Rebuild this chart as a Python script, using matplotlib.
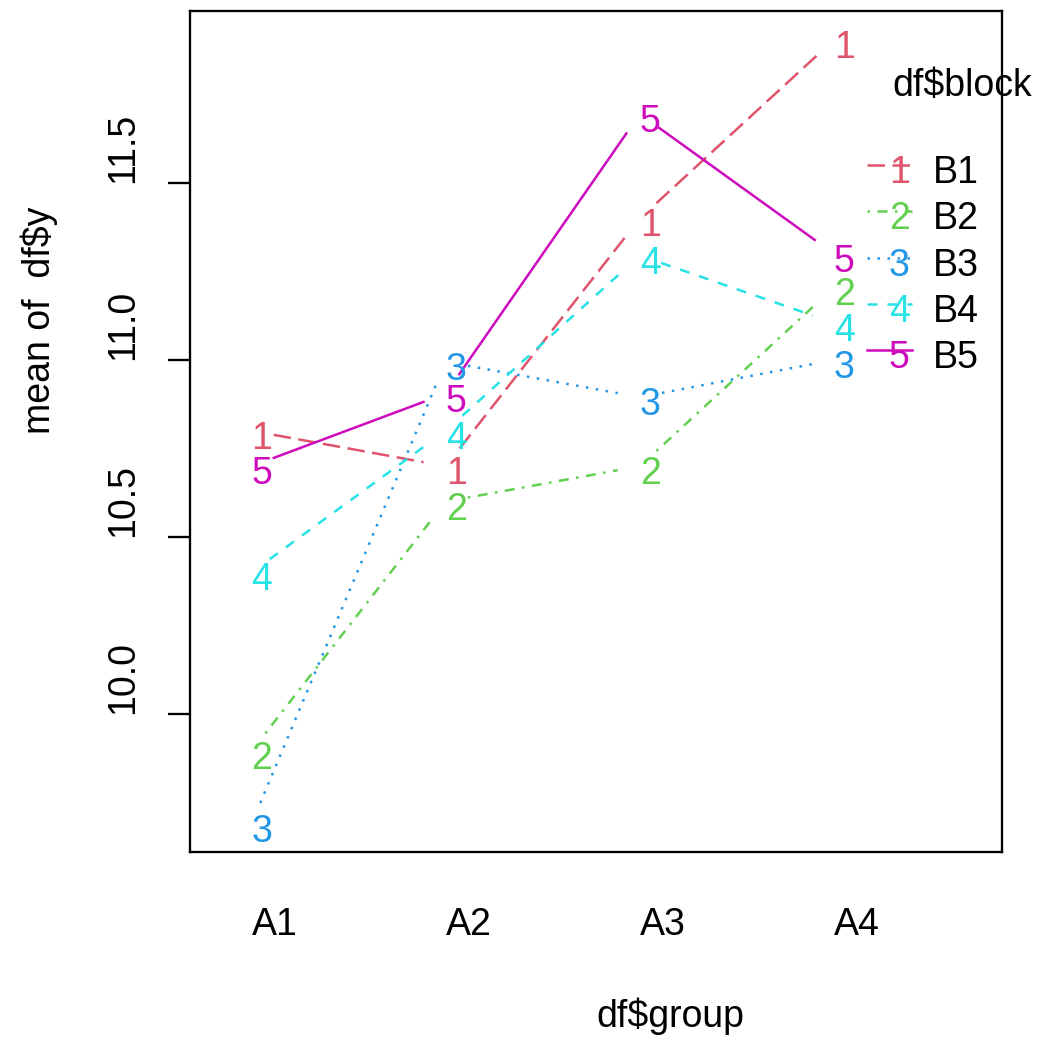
import matplotlib
matplotlib.use('Agg')
import matplotlib.pyplot as plt
import numpy as np
from matplotlib import transforms

# ---- data (means of df$y by group and block) ----
groups = ['A1', 'A2', 'A3', 'A4']
blocks = ['B1', 'B2', 'B3', 'B4', 'B5']
block_marks = ['1', '2', '3', '4', '5']
b1 = [10.80, 10.70, 11.40, 11.905]
b2 = [9.895, 10.60, 10.70, 11.205]
b3 = [9.69, 10.995, 10.895, 11.00]
b4 = [10.40, 10.80, 11.295, 11.105]
b5 = [10.70, 10.905, 11.695, 11.30]
yticks = [10.0, 10.5, 11.0, 11.5]
ytick_labels = ['10.0', '10.5', '11.0', '11.5']
xlabel = 'df$group'
ylabel = 'mean of  df$y'
legend_title = 'df$block'

series = [b1, b2, b3, b4, b5]
colors = ['#DF536B', '#61D04F', '#2297E6', '#28E2E5', '#CD0BBC']
lw = 1.8
styles = [(0, (7, 3)), (0, (1, 3, 4, 3)), (0, (1, 3)), (0, (4, 4)), 'solid']

plt.rcParams['font.family'] = ['Liberation Sans', 'DejaVu Sans']
FS = 27

W, H = 1038, 1037
fig = plt.figure(figsize=(W / 100, H / 100), dpi=100)
L, R, T, B = 190, 1002, 11, 852
ax = fig.add_axes([L / W, 1 - B / H, (R - L) / W, (B - T) / H])
ax.set_xlim(0.683, 4.865)
ax.set_ylim(9.61, 11.986)
for s in ax.spines.values():
    s.set_linewidth(1.66)
    s.set_color('black')
ax.set_xticks([])
ax.set_yticks(yticks)
ax.set_yticklabels([''] * len(yticks))
ax.tick_params(axis='y', length=16, width=1.66, direction='out', color='black')

ident = transforms.IdentityTransform()
def px(x, y):
    return x, H - y

xs = np.arange(1, len(groups) + 1)
gap = 22.5
inv = ax.transData.inverted()
for vals, col, ls, mk in zip(series, colors, styles, block_marks):
    pts = ax.transData.transform(np.column_stack([xs, vals]))
    for i in range(len(pts) - 1):
        p0, p1 = pts[i], pts[i + 1]
        d = p1 - p0
        n = np.hypot(*d)
        if n > 2 * gap:
            a = p0 + d / n * gap
            b = p1 - d / n * gap
            seg = inv.transform(np.array([a, b]))
            ax.plot(seg[:, 0], seg[:, 1], color=col, lw=lw, linestyle=ls,
                    dash_capstyle='butt', solid_capstyle='butt')
    off = ax.transData + transforms.ScaledTranslation(0, -18 / 100, fig.dpi_scale_trans)
    for x, v in zip(xs, vals):
        ax.text(x, v, mk, color=col, fontsize=FS, ha='left', va='baseline',
                transform=off, parse_math=False)

# x tick labels (left anchored)
bt = transforms.blended_transform_factory(ax.transData, ident)
for x, g in zip(xs, groups):
    ax.text(x, H - 935, g, fontsize=FS, ha='left', va='baseline',
            transform=bt, parse_math=False)

# y tick labels (rotated, starting at tick)
bty = transforms.blended_transform_factory(ident, ax.transData)
for v, lab in zip(yticks, ytick_labels):
    ax.text(133, v, lab, fontsize=FS, rotation=90, rotation_mode='anchor',
            ha='left', va='baseline', transform=bty, parse_math=False)

# axis titles
ax.text(*px(596, 1027), xlabel, fontsize=FS, ha='left', va='baseline',
        transform=ident, parse_math=False)
ax.text(*px(50, 434), ylabel, fontsize=FS, rotation=90, rotation_mode='anchor',
        ha='left', va='baseline', transform=ident, parse_math=False)

# legend
ax.text(*px(892, 96), legend_title, fontsize=FS, ha='left', va='baseline',
        transform=ident, parse_math=False)
for i, (lab, mk, col, ls) in enumerate(zip(blocks, block_marks, colors, styles)):
    yy = 165 + 46.25 * i
    ax.add_line(plt.Line2D([867, 912], [H - yy, H - yy], transform=ident,
                           color=col, lw=lw, linestyle=ls, dash_capstyle='butt',
                           clip_on=False))
    ax.text(*px(889, yy + 18), mk, color=col, fontsize=FS, ha='left',
            va='baseline', transform=ident, parse_math=False)
    ax.text(*px(933, yy + 18), lab, fontsize=FS, ha='left', va='baseline',
            transform=ident, parse_math=False)

fig.savefig('out.png', dpi=100, facecolor='white')
